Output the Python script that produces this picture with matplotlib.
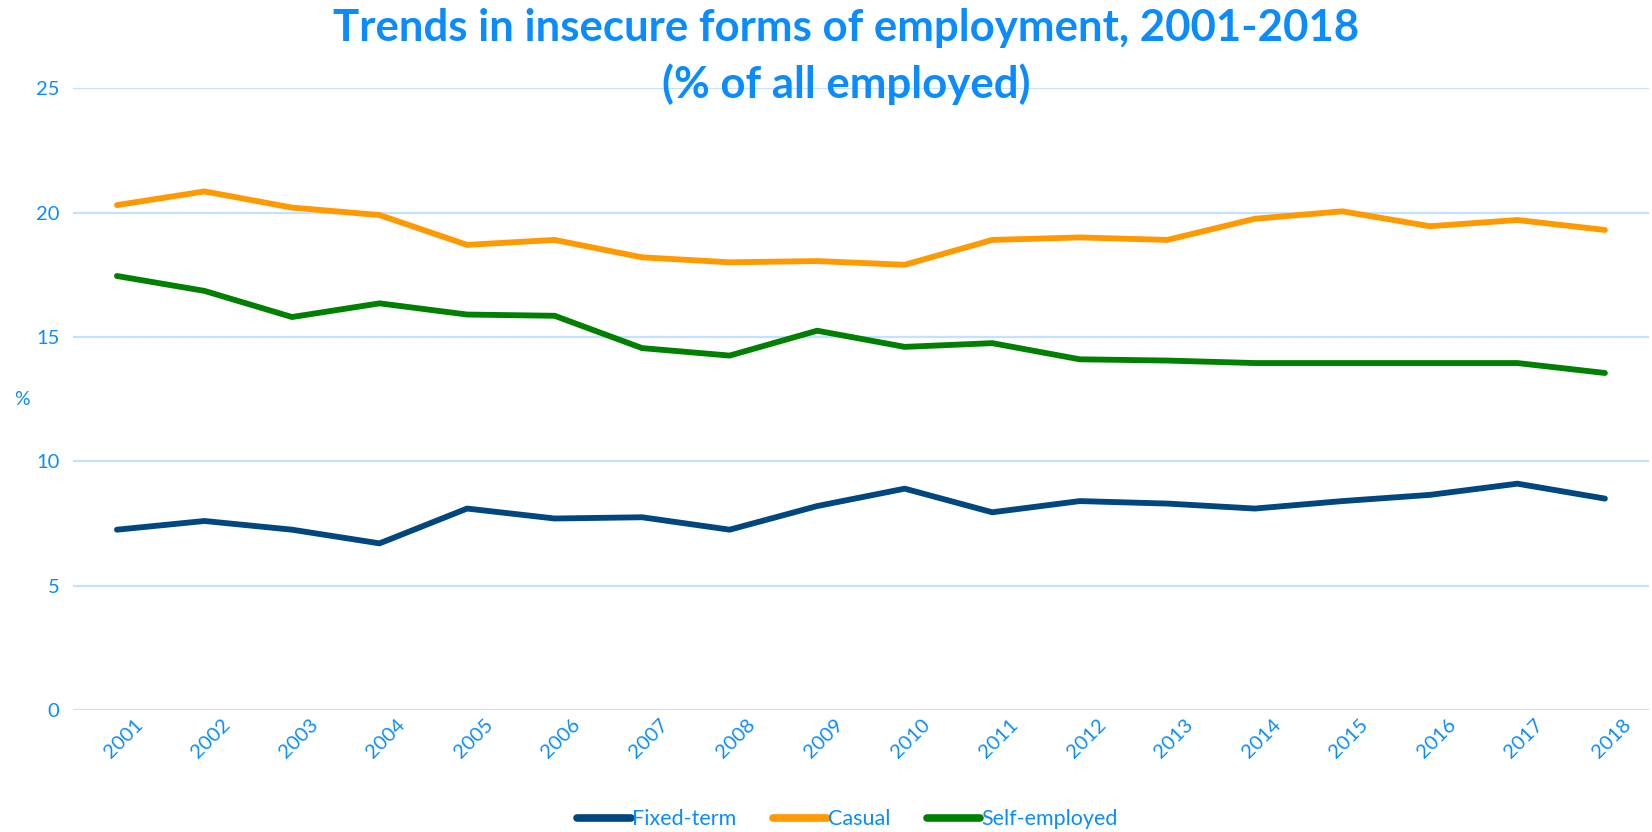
import numpy as np
import matplotlib.pyplot as plt
import matplotlib.transforms as mtransforms

plt.rcParams['font.family'] = ['Lato', 'DejaVu Sans']

years = [str(y) for y in range(2001, 2019)]
fixed_term = [7.25, 7.6, 7.25, 6.7, 8.1, 7.7, 7.75, 7.25, 8.2, 8.9,
              7.95, 8.4, 8.3, 8.1, 8.4, 8.65, 9.1, 8.5]
casual = [20.3, 20.85, 20.2, 19.9, 18.7, 18.9, 18.2, 18.0, 18.05, 17.9,
          18.9, 19.0, 18.9, 19.75, 20.05, 19.45, 19.7, 19.3]
self_employed = [17.45, 16.85, 15.8, 16.35, 15.9, 15.85, 14.55, 14.25, 15.25, 14.6,
                 14.75, 14.1, 14.05, 13.95, 13.95, 13.95, 13.95, 13.55]

blue_txt = '#0A8CFF'
grid_col = '#C4E2FF'

fig = plt.figure(figsize=(16.52, 8.32), dpi=100)
ax = fig.add_axes([0.0443, 0.1466, 0.9537, 0.7474])

x = np.arange(len(years))
kw = dict(lw=4.2, solid_capstyle='round', solid_joinstyle='round')
ax.plot(x, fixed_term, color='#00467F', label='Fixed-term', **kw)
ax.plot(x, casual, color='#FF9900', label='Casual', **kw)
ax.plot(x, self_employed, color='#008000', label='Self-employed', **kw)

ax.set_xlim(-0.5, len(years) - 0.5)
ax.set_ylim(0, 25)
ax.set_yticks([0, 5, 10, 15, 20, 25])
ax.set_xticks(x)
ax.set_xticklabels(years, rotation=45, ha='right', va='top', rotation_mode='anchor')
ax.tick_params(axis='both', length=0, colors=blue_txt, labelsize=14.5)
ax.tick_params(axis='y', pad=10)
ax.tick_params(axis='x', pad=4)
# nudge the rotated year labels to the right
shift = mtransforms.ScaledTranslation(0.17, 0, fig.dpi_scale_trans)
for lab in ax.get_xticklabels():
    lab.set_transform(lab.get_transform() + shift)
for s in ax.spines.values():
    s.set_visible(False)
ax.grid(axis='y', color=grid_col, lw=1.6)
ax.set_axisbelow(True)

fig.text(0.013, 0.52, '%', color=blue_txt, fontsize=14, ha='center', va='center')

fig.suptitle('Trends in insecure forms of employment, 2001-2018\n(% of all employed)',
             x=0.512, y=0.99, color=blue_txt, fontsize=31.5, fontweight='bold', linespacing=1.42)

leg = fig.legend(loc='lower center', bbox_to_anchor=(0.513, -0.02), ncol=3, frameon=False,
                 fontsize=15.5, handlelength=2.5, handletextpad=0.05, columnspacing=1.7)
for t in leg.get_texts():
    t.set_color(blue_txt)
for h in leg.get_lines():
    h.set_linewidth(5.5)

fig.savefig('out.png', dpi=100)
